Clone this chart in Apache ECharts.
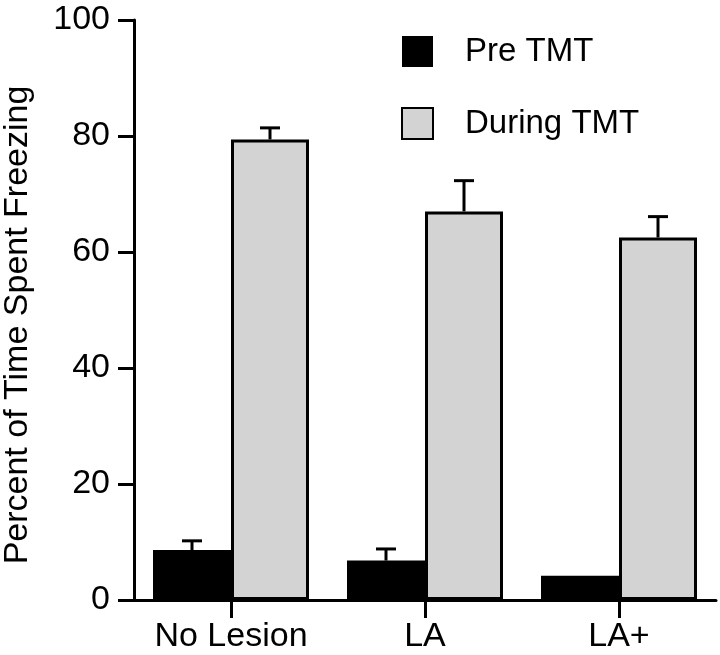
<!DOCTYPE html>
<html><head><meta charset="utf-8">
<script src="https://cdn.jsdelivr.net/npm/echarts@6/dist/echarts.min.js"></script>
<style>html,body{margin:0;padding:0;background:#fff}#c{width:720px;height:655px}</style>
</head><body><div id="c"></div>
<script>
var categories = ['No Lesion', 'LA', 'LA+'];
var preTMT = [8.6, 6.8, 4.2];
var duringTMT = [79.4, 67.0, 62.5];
var preErr = [1.6, 2.0, 0];
var duringErr = [2.0, 5.3, 3.6];
var yTicks = [0, 20, 40, 60, 80, 100];

var FONT = 'Liberation Sans, Arial, Helvetica, sans-serif';
var BW = 78;
var chart = echarts.init(document.getElementById('c'));

function errSeries(vals, errs, side) {
  return {
    type: 'custom', z: 10, silent: true,
    data: vals.map(function (v, i) { return [i, v, errs[i]]; }),
    renderItem: function (params, api) {
      var i = api.value(0), v = api.value(1), e = api.value(2);
      if (!e) return null;
      var p0 = api.coord([i, v]);
      var p1 = api.coord([i, v + e]);
      var x = p0[0] + side * BW / 2;
      var style = { stroke: '#000', lineWidth: 3 };
      return { type: 'group', children: [
        { type: 'line', shape: { x1: x, y1: p0[1], x2: x, y2: p1[1] }, style: style },
        { type: 'line', shape: { x1: x - 10, y1: p1[1], x2: x + 10, y2: p1[1] }, style: style }
      ]};
    }
  };
}

chart.setOption({
  animation: false,
  grid: { left: 134, right: 4, top: 20, bottom: 55, containLabel: false, outerBoundsMode: 'none' },
  legend: {
    orient: 'vertical', left: 396, top: 30, itemWidth: 31, itemHeight: 31, itemGap: 39,
    icon: 'rect',
    textStyle: { fontFamily: FONT, fontSize: 33, color: '#000', padding: [0, 0, 0, 27] },
    data: ['Pre TMT', 'During TMT']
  },
  xAxis: {
    type: 'category', data: categories,
    axisLine: { lineStyle: { color: '#000', width: 3 } },
    axisTick: { show: true, alignWithLabel: true, interval: 0, length: 18, lineStyle: { color: '#000', width: 3 } },
    axisLabel: { interval: 0, hideOverlap: false, fontFamily: FONT, fontSize: 34, color: '#000', margin: 20 }
  },
  yAxis: {
    type: 'value', min: 0, max: 100, interval: 20,
    name: 'Percent of Time Spent Freezing', nameLocation: 'middle', nameGap: 99,
    nameTextStyle: { fontFamily: FONT, fontSize: 34, color: '#000', padding: [0, 30, 0, 0] },
    axisLine: { show: true, lineStyle: { color: '#000', width: 3 } },
    axisTick: { show: true, length: 16, lineStyle: { color: '#000', width: 3 } },
    axisLabel: { fontFamily: FONT, fontSize: 34, color: '#000', margin: 24,
      formatter: function (v) { return yTicks.indexOf(v) >= 0 ? String(v) : ''; } },
    splitLine: { show: false }
  },
  series: [
    { name: 'Pre TMT', type: 'bar', data: preTMT, barWidth: BW, barGap: '0%',
      itemStyle: { color: '#000', borderColor: '#000', borderWidth: 0 } },
    { name: 'During TMT', type: 'bar', data: duringTMT, barWidth: BW,
      itemStyle: { color: '#d3d3d3', borderColor: '#000', borderWidth: 3 } },
    errSeries(preTMT, preErr, -1),
    errSeries(duringTMT, duringErr, 1)
  ]
});
</script></body></html>
